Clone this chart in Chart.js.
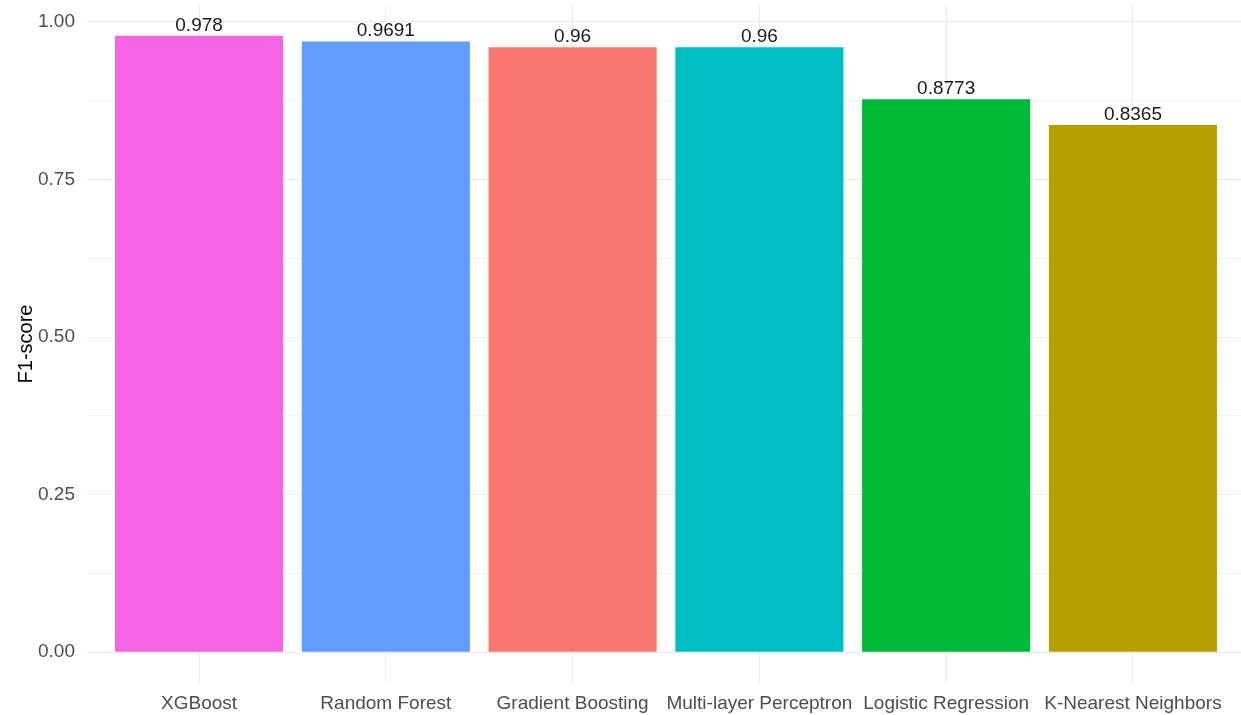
<!DOCTYPE html>
<html>
<head>
<meta charset="utf-8">
<script src="https://cdn.jsdelivr.net/npm/chart.js@4/dist/chart.umd.min.js"></script>
<style>
  html, body { margin: 0; padding: 0; background: #fff; overflow: hidden; }
  #wrap { position: relative; width: 1250px; height: 715px; }
</style>
</head>
<body>
<div id="wrap"><canvas id="f1-chart"></canvas></div>
<script>
const models = [
  "XGBoost",
  "Random Forest",
  "Gradient Boosting",
  "Multi-layer Perceptron",
  "Logistic Regression",
  "K-Nearest Neighbors",
];
const f1Scores = [0.978, 0.9691, 0.96, 0.96, 0.8773, 0.8365];
const barColors = ["#F564E3", "#619CFF", "#F8766D", "#00BFC4", "#00BA38", "#B79F00"];
const yTicks = [0, 0.125, 0.25, 0.375, 0.5, 0.625, 0.75, 0.875, 1];
const yMajor = [0, 0.25, 0.5, 0.75, 1];

const FONT = "'Liberation Sans', Arial, sans-serif";

// ggplot-style 5% padding around the data range
const yMin = -0.05 * Math.max(...f1Scores);
const yMax = Math.max(...f1Scores) * 1.05;

const isMajor = (v) => yMajor.some((m) => Math.abs(m - v) < 1e-9);

const valueLabels = {
  id: "valueLabels",
  afterDatasetsDraw(chart) {
    const ctx = chart.ctx;
    const meta = chart.getDatasetMeta(0);
    ctx.save();
    ctx.font = "19px " + FONT;
    ctx.fillStyle = "#1a1a1a";
    ctx.textAlign = "center";
    ctx.textBaseline = "bottom";
    meta.data.forEach((bar, i) => {
      ctx.fillText(String(f1Scores[i]), bar.x, bar.y - 1);
    });
    ctx.restore();
  },
};

new Chart("f1-chart", {
  type: "bar",
  data: {
    datasets: [
      {
        label: "F1-score",
        data: models.map((m, i) => ({ x: i + 1, y: f1Scores[i] })),
        backgroundColor: barColors,
        borderWidth: 0,
        barPercentage: 0.9,
        categoryPercentage: 1,
      },
    ],
  },
  options: {
    responsive: true,
    maintainAspectRatio: false,
    animation: false,
    layout: { padding: { top: 5, right: 5, left: 0, bottom: 0 } },
    plugins: {
      legend: { display: false },
      tooltip: { enabled: false },
    },
    scales: {
      x: {
        type: "linear",
        offset: false,
        min: 0.4,
        max: models.length + 0.6,
        afterBuildTicks: (scale) => {
          scale.ticks = models.map((m, i) => ({ value: i + 1 }));
        },
        afterFit: (scale) => {
          scale.height = 32;
          scale.paddingLeft = 0;
          scale.paddingRight = 0;
        },
        ticks: {
          autoSkip: false,
          maxRotation: 0,
          padding: 9,
          color: "#4d4d4d",
          font: { family: FONT, size: 19 },
          callback: (v) => models[v - 1],
        },
        grid: { color: "#ebebeb", lineWidth: 1, drawTicks: false, offset: false },
        border: { display: false },
      },
      y: {
        min: yMin,
        max: yMax,
        afterBuildTicks: (scale) => {
          scale.ticks = yTicks.map((v) => ({ value: v }));
        },
        afterFit: (scale) => {
          scale.width = 87;
          scale.paddingTop = 0;
          scale.paddingBottom = 0;
        },
        ticks: {
          autoSkip: false,
          padding: 12,
          color: "#4d4d4d",
          font: { family: FONT, size: 19 },
          callback: (v) => (isMajor(v) ? v.toFixed(2) : ""),
        },
        grid: {
          drawTicks: false,
          lineWidth: 1,
          color: (c) => (c.tick && isMajor(c.tick.value) ? "#ebebeb" : "#f3f3f3"),
        },
        border: { display: false },
        title: {
          display: true,
          text: "F1-score",
          color: "#000",
          font: { family: FONT, size: 20 },
          padding: { top: 14, bottom: 0 },
        },
      },
    },
  },
  plugins: [valueLabels],
});
</script>
</body>
</html>
